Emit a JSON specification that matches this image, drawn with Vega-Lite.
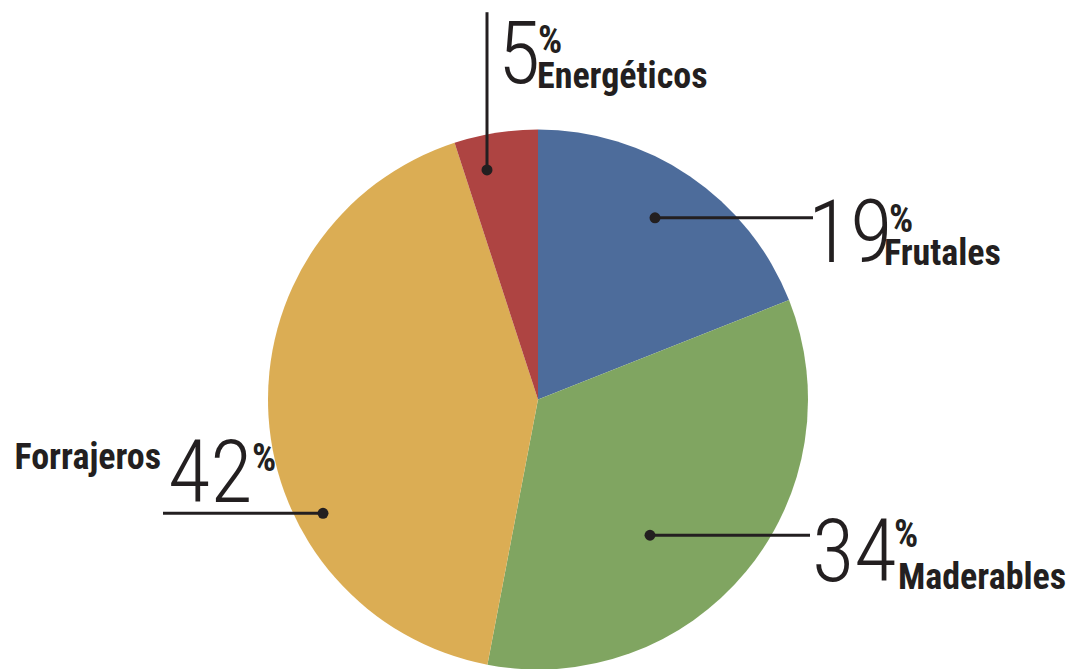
{
  "$schema": "https://vega.github.io/schema/vega-lite/v6.json",
  "autosize": {"type": "none"},
  "width": 540,
  "height": 539,
  "padding": {"left": 268, "top": 130, "right": 265, "bottom": 0},
  "background": "white",
  "config": {"view": {"stroke": null}},
  "data": {
    "values": [
      {"Cultivo": "Frutales", "Porcentaje": 19, "orden": 1, "px": 117, "py": -182, "lx": 275, "ly": -182, "nx": 270, "ny": -138, "sx": 351, "sy": -168, "tx": 346, "ty": -135},
      {"Cultivo": "Maderables", "Porcentaje": 34, "orden": 2, "px": 112, "py": 136, "lx": 272, "ly": 136, "nx": 274, "ny": 182, "sx": 356, "sy": 148, "tx": 360, "ty": 190},
      {"Cultivo": "Forrajeros", "Porcentaje": 42, "orden": 3, "px": -215, "py": 114, "lx": -375, "ly": 114, "nx": -370, "ny": 103, "sx": -286, "sy": 72, "tx": -377, "ty": 70},
      {"Cultivo": "Energéticos", "Porcentaje": 5, "orden": 4, "px": -51, "py": -230, "lx": -51, "ly": -388, "nx": -40, "ny": -317, "sx": 0, "sy": -347, "tx": -1, "ty": -312}
    ]
  },
  "layer": [
    {
      "mark": {"type": "arc", "outerRadius": 270, "stroke": null},
      "encoding": {
        "theta": {"field": "Porcentaje", "type": "quantitative", "stack": true},
        "order": {"field": "orden", "type": "quantitative", "sort": "ascending"},
        "color": {
          "field": "Cultivo",
          "type": "nominal",
          "scale": {"domain": ["Frutales", "Maderables", "Forrajeros", "Energéticos"], "range": ["#4d6c9b", "#80a561", "#dbad54", "#ae4442"]},
          "legend": null
        }
      }
    },
    {
      "mark": {"type": "rule", "color": "#231f20", "strokeWidth": 3},
      "encoding": {
        "x": {"field": "px", "type": "quantitative", "scale": {"domain": [-270, 270], "nice": false, "zero": false}, "axis": null},
        "y": {"field": "py", "type": "quantitative", "scale": {"domain": [-270, 270], "nice": false, "zero": false, "reverse": true}, "axis": null},
        "x2": {"field": "lx"},
        "y2": {"field": "ly"}
      }
    },
    {
      "mark": {"type": "point", "filled": true, "color": "#231f20", "size": 120, "opacity": 1},
      "encoding": {
        "x": {"field": "px", "type": "quantitative"},
        "y": {"field": "py", "type": "quantitative"}
      }
    },
    {
      "mark": {"type": "text", "align": "left", "baseline": "alphabetic", "font": "Roboto Condensed, Liberation Sans Narrow, sans-serif", "fontWeight": 300, "fontSize": 87, "color": "#231f20"},
      "encoding": {
        "x": {"field": "nx", "type": "quantitative"},
        "y": {"field": "ny", "type": "quantitative"},
        "text": {"field": "Porcentaje", "type": "quantitative"}
      }
    },
    {
      "mark": {"type": "text", "align": "left", "baseline": "alphabetic", "font": "Roboto Condensed, Liberation Sans Narrow, sans-serif", "fontWeight": "bold", "fontSize": 38, "color": "#231f20", "text": "%"},
      "encoding": {
        "x": {"field": "sx", "type": "quantitative"},
        "y": {"field": "sy", "type": "quantitative"}
      }
    },
    {
      "transform": [{"filter": "datum.Cultivo !== 'Forrajeros'"}],
      "mark": {"type": "text", "align": "left", "baseline": "alphabetic", "font": "Roboto Condensed, Liberation Sans Narrow, sans-serif", "fontWeight": "bold", "fontSize": 36, "color": "#231f20"},
      "encoding": {
        "x": {"field": "tx", "type": "quantitative"},
        "y": {"field": "ty", "type": "quantitative"},
        "text": {"field": "Cultivo", "type": "nominal"}
      }
    },
    {
      "transform": [{"filter": "datum.Cultivo === 'Forrajeros'"}],
      "mark": {"type": "text", "align": "right", "baseline": "alphabetic", "font": "Roboto Condensed, Liberation Sans Narrow, sans-serif", "fontWeight": "bold", "fontSize": 36, "color": "#231f20"},
      "encoding": {
        "x": {"field": "tx", "type": "quantitative"},
        "y": {"field": "ty", "type": "quantitative"},
        "text": {"field": "Cultivo", "type": "nominal"}
      }
    }
  ]
}
